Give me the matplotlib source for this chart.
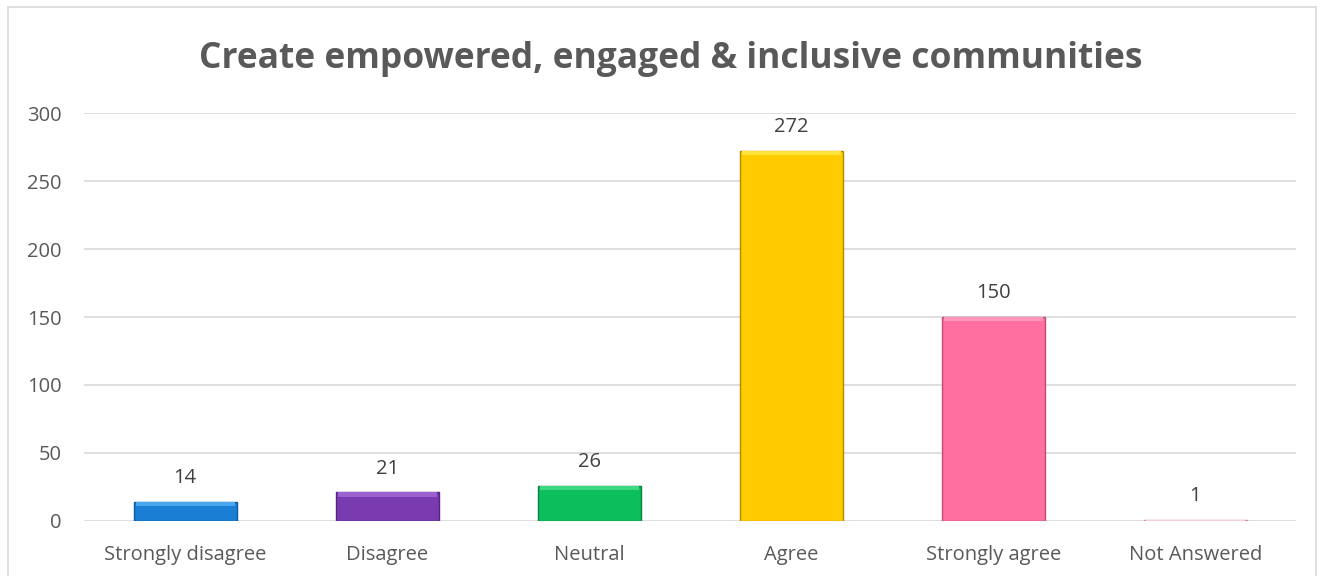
import matplotlib.pyplot as plt
from matplotlib.patches import Rectangle

categories = ['Strongly disagree', 'Disagree', 'Neutral', 'Agree', 'Strongly agree', 'Not Answered']
counts = [14, 21, 26, 272, 150, 1]
bar_colors = ['#1a7fd4', '#7a3bb0', '#0cbf5c', '#ffcc00', '#ff6fa0', '#f7a8c0']
edge_colors = ['#0d5a9c', '#55247f', '#07843f', '#b08a00', '#c44a78', '#e08aa0']
top_colors = ['#4aa6ee', '#9a62d0', '#3ed883', '#ffe23a', '#ff97bd', '#fbd0dd']
y_ticks = [0, 50, 100, 150, 200, 250, 300]
title = 'Create empowered, engaged & inclusive communities'

fig = plt.figure(figsize=(13.25, 5.76), dpi=100)
plt.rcParams['font.family'] = ['Open Sans', 'DejaVu Sans']

# outer chart frame
fig.patches.append(Rectangle((8 / 1325, -0.02), 1308 / 1325, 1.02 - 7 / 576,
                             transform=fig.transFigure, fill=False,
                             edgecolor='#d9d9d9', linewidth=1.2))

ax = fig.add_axes([0.0634, 0.0955, 0.915, 0.7083])
x = list(range(len(categories)))
ax.bar(x, counts, width=0.51, color=bar_colors, edgecolor=edge_colors, linewidth=1.0, zorder=3)
# lighter bevel strip on the top of each bar
bevel = [min(c, 3) for c in counts]
ax.bar(x, bevel, width=0.49, bottom=[c - b for c, b in zip(counts, bevel)],
       color=top_colors, linewidth=0, zorder=4)

for xi, c in zip(x, counts):
    ax.annotate(str(c), (xi, c), xytext=(0, 10), textcoords='offset points',
                ha='center', va='bottom', fontsize=14.5, color='#404040')

ax.set_xlim(-0.5, 5.5)
ax.set_ylim(0, 300)
ax.set_yticks(y_ticks)
ax.set_xticks(x)
ax.set_xticklabels(categories)
ax.tick_params(axis='both', length=0, labelsize=14.5, labelcolor='#595959')
ax.tick_params(axis='x', pad=17)
ax.tick_params(axis='y', pad=16)
ax.grid(axis='y', color='#d9d9d9', linewidth=1.2, zorder=0)
for s in ax.spines.values():
    s.set_visible(False)

fig.text(0.506, 0.898, title, ha='center', va='center', fontsize=25.5,
         fontweight='bold', color='#595959')

fig.savefig('out.png', dpi=100)
